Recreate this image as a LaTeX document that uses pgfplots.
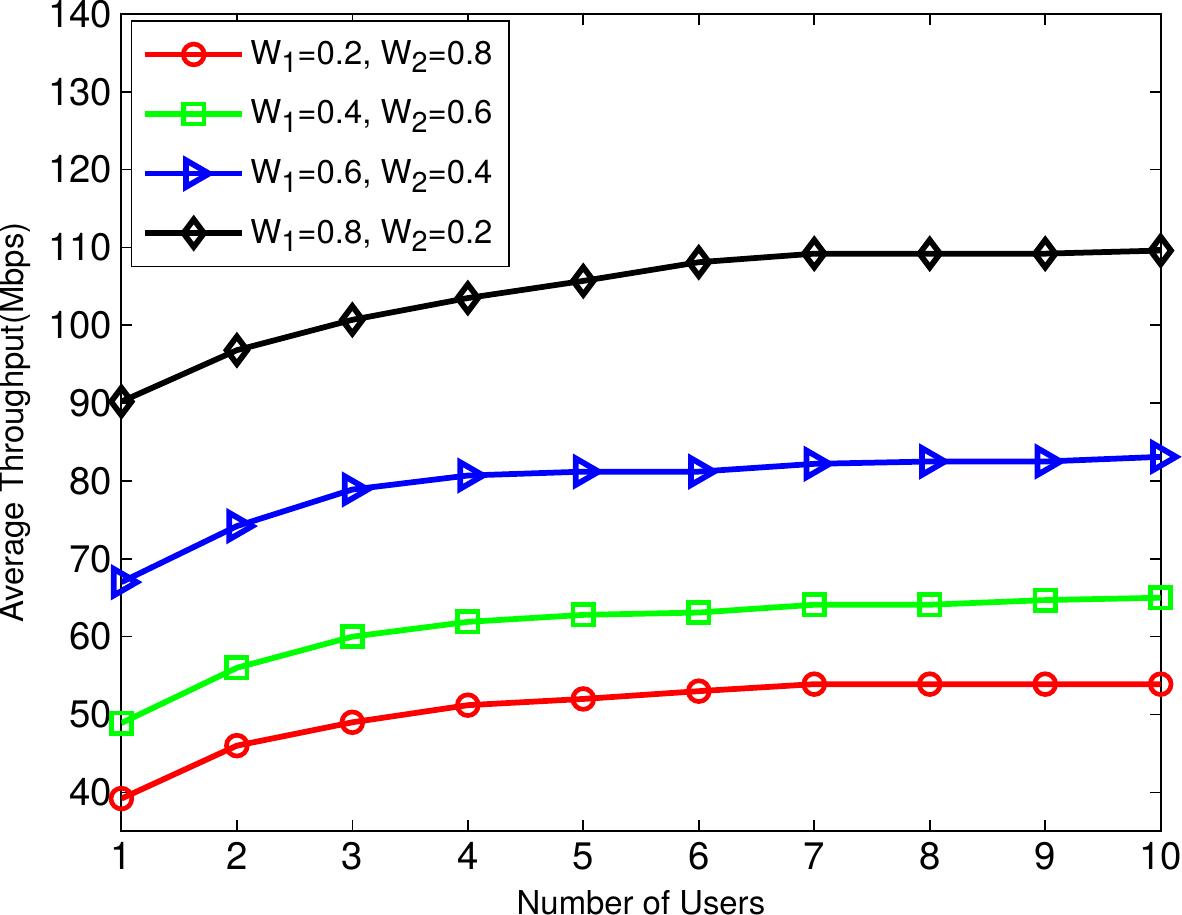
\documentclass[border=0pt]{standalone}
\usepackage{pgfplots}
\pgfplotsset{compat=1.18}
\usepackage{fontspec}
\setmainfont{TeX Gyre Heros}
\newcommand\sub[1]{\raisebox{-0.5ex}{\fontsize{10.5}{11}\selectfont#1}}
\begin{document}
\begin{tikzpicture}
\begin{axis}[
  scale only axis,
  width=379.4pt, height=298.4pt,
  xmin=1, xmax=10, ymin=35, ymax=140,
  xtick={1,...,10}, ytick={40,50,...,140},
  tick align=inside, xtick pos=both, ytick pos=both,
  major tick length=4pt,
  axis line style={line width=0.7pt},
  every tick/.style={line width=0.6pt, black},
  /pgf/number format/assume math mode=true,
  tick label style={font=\fontsize{14}{16}\selectfont, inner sep=0pt},
  yticklabel style={xshift=-3.2pt},
  xticklabel style={yshift=-4pt},
  label style={font=\fontsize{12}{14}\selectfont, inner sep=0pt},
  xlabel={Number of Users}, ylabel={Average Throughput(Mbps)},
  xlabel style={yshift=-7pt},
  ylabel style={yshift=6pt},
  legend style={at={(0.009,0.992)}, anchor=north west, draw=black, line width=0.6pt,
    font=\fontsize{12}{14}\selectfont, row sep=7.5pt, inner xsep=4pt, inner ysep=5pt},
  legend cell align=left,
  legend image code/.code={
    \draw[mark repeat=2,mark phase=2] plot coordinates {(0cm,0cm) (0.62cm,0cm) (1.24cm,0cm)};
  },
  every axis plot/.append style={line width=2.1pt, mark options={solid, line width=1.7pt, fill=white}},
]
\addplot[red, mark=o, mark size=3.8pt] coordinates {
(1,39.2) (2,46.0) (3,49.0) (4,51.2) (5,52.0) (6,53.0) (7,53.9) (8,53.9) (9,53.9) (10,53.9)};
\addlegendentry{W\sub{1}=0.2, W\sub{2}=0.8}
\addplot[green, mark=square, mark size=3.7pt] coordinates {
(1,48.9) (2,56.0) (3,60.0) (4,61.9) (5,62.8) (6,63.1) (7,64.1) (8,64.1) (9,64.7) (10,65.0)};
\addlegendentry{W\sub{1}=0.4, W\sub{2}=0.6}
\addplot[blue, mark=triangle, mark size=5.6pt, mark options={rotate=-90, fill=none}] coordinates {
(1,67.0) (2,74.2) (3,78.9) (4,80.7) (5,81.2) (6,81.2) (7,82.2) (8,82.5) (9,82.5) (10,83.1)};
\addlegendentry{W\sub{1}=0.6, W\sub{2}=0.4}
\addplot[black, mark=diamond, mark size=5pt, mark options={fill=none}] coordinates {
(1,90.2) (2,96.8) (3,100.7) (4,103.5) (5,105.7) (6,108.1) (7,109.2) (8,109.2) (9,109.2) (10,109.6)};
\addlegendentry{W\sub{1}=0.8, W\sub{2}=0.2}
\end{axis}
\end{tikzpicture}
\end{document}
